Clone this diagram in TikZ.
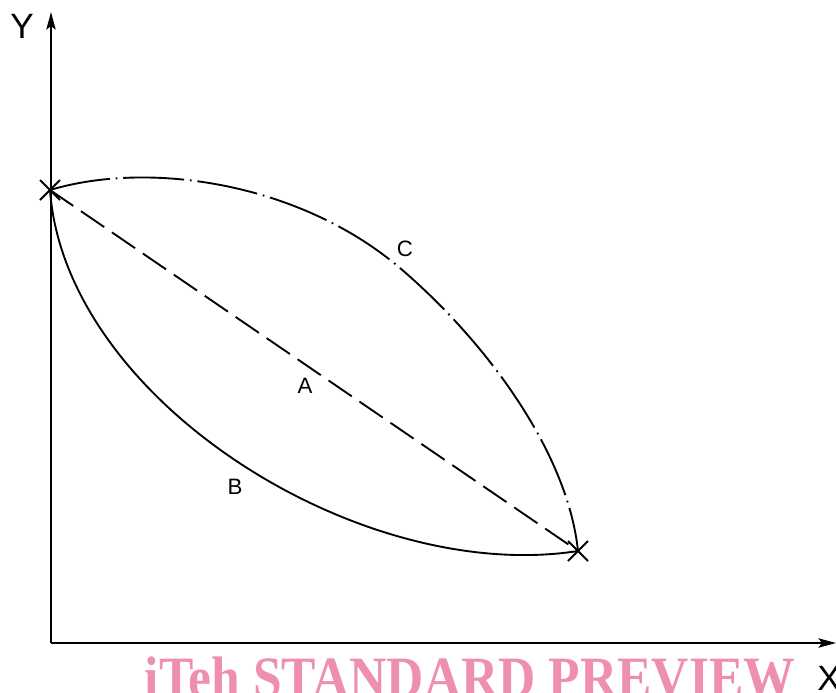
\documentclass[tikz,border=0pt]{standalone}
\usepackage{fontspec}
\setmainfont{Liberation Sans}
\newfontfamily\wmfont{Liberation Serif}
\usetikzlibrary{arrows.meta}
\definecolor{ink}{HTML}{000000}
\definecolor{wmpink}{HTML}{EF8FAE}
\tikzset{
  axis/.style={-{Stealth[length=15pt, width=8pt, inset=3pt]}, line width=1.4pt, draw=ink},
  chord/.style={line width=1.6pt, draw=ink, dash pattern=on 24pt off 8pt},
  lower/.style={line width=1.6pt, draw=ink},
  upper/.style={line width=1.6pt, draw=ink, dash pattern=on 52pt off 5pt on 1.5pt off 5pt},
  crossmark/.style={line width=1.6pt, draw=ink},
  lbl/.style={font=\fontsize{19}{19}\selectfont, text=ink, inner sep=0pt},
  axlbl/.style={font=\fontsize{30}{30}\selectfont, text=ink, inner sep=0pt},
}

\begin{document}
\begin{tikzpicture}[x=0.03cm, y=-0.03cm]
  \useasboundingbox (0,0) rectangle (836,692);
  % axes
  \coordinate (o) at (51,643);
  \coordinate (ytip) at (51,12);
  \coordinate (xtip) at (836,643);
  \draw[axis] (o) -- (ytip);
  \draw[axis] (o) -- (xtip);
  \node[axlbl] (ylab) at (22,26) {Y};
  \node[axlbl] (xlab) at (829,678) {X};
  % end points
  \coordinate (p1) at (50,190);
  \coordinate (p2) at (578,551);
  \coordinate (q) at (400,268);
  % paths
  \draw[chord] (p1) -- (p2);
  \draw[lower] (p1) .. controls (65,400) and (360,585) .. (p2);
  \draw[upper] (p1) .. controls (150,160) and (300,183) .. (q)
                    .. controls (490,345) and (568,455) .. (p2);
  \foreach \p in {p1,p2}
    \draw[crossmark] ([shift={(-10,-10)}]\p) -- ([shift={(10,10)}]\p)
                ([shift={(-10,10)}]\p) -- ([shift={(10,-10)}]\p);
  \node[lbl] (la) at (305,386) {A};
  \node[lbl] (lb) at (235,487) {B};
  \node[lbl] (lc) at (405,249) {C};
  % watermark
  \node[anchor=base, inner sep=0pt, xscale=0.88, text=wmpink, font=\wmfont\bfseries\fontsize{50}{50}\selectfont] (wm) at (470,697) {iTeh STANDARD PREVIEW};
\end{tikzpicture}
\end{document}
